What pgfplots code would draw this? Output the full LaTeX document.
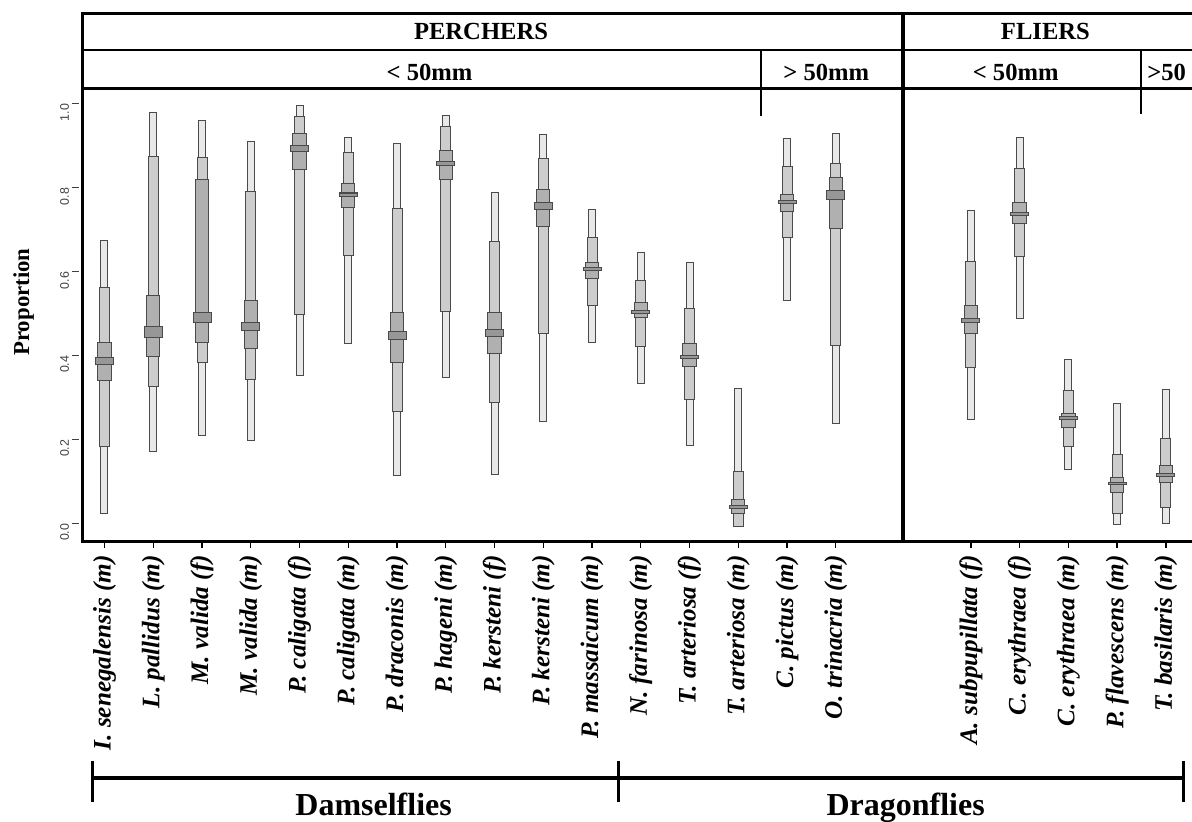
\documentclass[border=0pt]{standalone}
\usepackage{fontspec}
\setmainfont{Liberation Serif}
\setsansfont{Liberation Sans}
\usepackage{pgfplots}
\usepackage{pgfplotstable}
\pgfplotsset{compat=1.18}
\definecolor{cA}{HTML}{E8E8E8}
\definecolor{cB}{HTML}{CDCDCD}
\definecolor{cC}{HTML}{B0B0B0}
\definecolor{cM}{HTML}{979797}
\definecolor{outl}{HTML}{4A4A4A}
\definecolor{tickc}{HTML}{404040}

% x: category position; lo1/hi1 outer (lightest) range; lo2/hi2 middle range; lo3/hi3 inner range; mlo/mhi median band
\pgfplotstableread{
x     lo1    hi1   lo2    hi2   lo3   hi3   mlo   mhi
0     0.023  0.674 0.181  0.562 0.339 0.433 0.376 0.395
1     0.171  0.979 0.324  0.875 0.395 0.543 0.441 0.469
2     0.208  0.960 0.383  0.873 0.429 0.821 0.476 0.504
3     0.197  0.910 0.341  0.791 0.415 0.532 0.458 0.479
4     0.350  0.996 0.496  0.970 0.842 0.929 0.885 0.901
5     0.427  0.921 0.636  0.885 0.751 0.811 0.777 0.788
6     0.112  0.906 0.264  0.751 0.383 0.504 0.436 0.458
7     0.345  0.972 0.504  0.947 0.817 0.889 0.851 0.863
8     0.116  0.789 0.286  0.673 0.403 0.504 0.443 0.462
9     0.241  0.928 0.452  0.869 0.706 0.796 0.747 0.765
10    0.429  0.749 0.517  0.682 0.581 0.622 0.602 0.610
11    0.331  0.646 0.419  0.579 0.488 0.528 0.498 0.507
12    0.185  0.622 0.293  0.512 0.373 0.429 0.391 0.401
13   -0.009  0.323 -0.009 0.125 0.023 0.059 0.034 0.043
14    0.530  0.918 0.679  0.851 0.741 0.785 0.761 0.770
15    0.237  0.930 0.422  0.858 0.700 0.826 0.770 0.794
17.77 0.246  0.747 0.369  0.624 0.452 0.519 0.477 0.490
18.77 0.486  0.921 0.634  0.846 0.713 0.765 0.732 0.741
19.77 0.126  0.392 0.181  0.318 0.226 0.262 0.246 0.255
20.77 -0.003 0.286 0.021  0.165 0.073 0.111 0.091 0.099
21.77 -0.001 0.321 0.037  0.204 0.097 0.140 0.111 0.121
}\boxdata

\pgfplotsset{
  rng/.style n args={2}{draw=none, mark=none, forget plot,
    error bars/.cd, y dir=plus, y explicit, error mark=none,
    error bar style={line width=#1, draw=#2, line cap=butt}},
}

\begin{document}
\begin{tikzpicture}
\begin{axis}[name=ax, scale only axis, width=571.4pt, height=226.5pt,
  xmin=-0.441, xmax=23, ymin=-0.0422, ymax=1.0369,
  axis line style={line width=1.5pt, black},
  clip=false,
  xtick pos=left, ytick pos=left,
  xtick={0,1,2,3,4,5,6,7,8,9,10,11,12,13,14,15,17.77,18.77,19.77,20.77,21.77},
  xticklabels={I. senegalensis (m),L. pallidus (m),M. valida (f),M. valida (m),P. caligata (f),P. caligata (m),P. draconis (m),P. hageni (m),P. kersteni (f),P. kersteni (m),P. massaicum (m),N. farinosa (m),T. arteriosa (f),T. arteriosa (m),C. pictus (m),O. trinacria (m),A. subpupillata (f),C. erythraea (f),C. erythraea (m),P. flavescens (m),T. basilaris (m)},
  ytick={0,0.2,0.4,0.6,0.8,1.0},
  yticklabels={0.0,0.2,0.4,0.6,0.8,1.0},
  tick align=outside,
  major tick length=3.5pt,
  xtick style={draw=black, line width=0.7pt},
  ytick style={draw=tickc, line width=0.7pt, xshift=-2pt},
  xticklabel style={rotate=90, anchor=east, font=\bfseries\itshape\fontsize{12.6}{14}\selectfont},
  yticklabel style={rotate=90, anchor=south, xshift=-4.5pt, font=\sffamily\fontsize{6.2}{7}\selectfont, text=tickc},
  ylabel={Proportion},
  ylabel style={at={(axis cs:-1.66,0.527)}, anchor=center, font=\bfseries\fontsize{11.4}{13}\selectfont},
]
% outer range
\addplot[rng={4pt}{outl}] table[x=x, y=lo1, y error plus expr=\thisrow{hi1}-\thisrow{lo1}] {\boxdata};
\addplot[rng={3pt}{cA}] table[x=x, y expr=\thisrow{lo1}+0.0024, y error plus expr=\thisrow{hi1}-\thisrow{lo1}-0.0048] {\boxdata};
% middle range
\addplot[rng={5.5pt}{outl}] table[x=x, y=lo2, y error plus expr=\thisrow{hi2}-\thisrow{lo2}] {\boxdata};
\addplot[rng={4.5pt}{cB}] table[x=x, y expr=\thisrow{lo2}+0.0024, y error plus expr=\thisrow{hi2}-\thisrow{lo2}-0.0048] {\boxdata};
% inner range
\addplot[rng={7.2pt}{outl}] table[x=x, y=lo3, y error plus expr=\thisrow{hi3}-\thisrow{lo3}] {\boxdata};
\addplot[rng={6.2pt}{cC}] table[x=x, y expr=\thisrow{lo3}+0.0024, y error plus expr=\thisrow{hi3}-\thisrow{lo3}-0.0048] {\boxdata};
% median band
\addplot[rng={9.5pt}{outl}] table[x=x, y=mlo, y error plus expr=\thisrow{mhi}-\thisrow{mlo}] {\boxdata};
\addplot[rng={8.5pt}{cM}] table[x=x, y expr=\thisrow{mlo}+0.0024, y error plus expr=\thisrow{mhi}-\thisrow{mlo}-0.0048] {\boxdata};

% frame and header
\draw[line width=1.5pt, line join=miter] (axis cs:23.5,1.2132) -- (axis cs:-0.441,1.2132) -- (axis cs:-0.441,-0.0422) -- (axis cs:23.5,-0.0422);
\draw[line width=1.3pt] (axis cs:-0.441,1.1275) -- (axis cs:23.5,1.1275);
\draw[line width=1.3pt] (axis cs:-0.441,1.0369) -- (axis cs:23.5,1.0369);
\draw[line width=1.7pt] (axis cs:16.379,1.2132) -- (axis cs:16.379,-0.0422);
\draw[line width=1.3pt] (axis cs:13.467,1.1275) -- (axis cs:13.467,0.970);
\draw[line width=1.3pt] (axis cs:21.26,1.1275) -- (axis cs:21.26,0.975);
\node[font=\bfseries\fontsize{12.3}{14}\selectfont] at (axis cs:7.723,1.1727) {PERCHERS};
\node[font=\bfseries\fontsize{12.3}{14}\selectfont] at (axis cs:19.30,1.1727) {FLIERS};
\node[font=\bfseries\fontsize{12.3}{14}\selectfont] at (axis cs:6.667,1.075) {< 50mm};
\node[font=\bfseries\fontsize{12.3}{14}\selectfont] at (axis cs:14.806,1.075) {> 50mm};
\node[font=\bfseries\fontsize{12.3}{14}\selectfont] at (axis cs:18.69,1.075) {< 50mm};
\node[font=\bfseries\fontsize{12.3}{14}\selectfont, anchor=west, inner sep=0pt] at (axis cs:21.383,1.075) {>50};

% bottom bracket
\draw[line width=2pt] (axis cs:-0.2359,-0.6067) -- (axis cs:22.123,-0.6067);
\draw[line width=1.5pt] (axis cs:-0.2359,-0.566) -- (axis cs:-0.2359,-0.6637);
\draw[line width=1.5pt] (axis cs:10.533,-0.566) -- (axis cs:10.533,-0.6637);
\draw[line width=1.5pt] (axis cs:22.123,-0.566) -- (axis cs:22.123,-0.6637);
\node[anchor=base, font=\bfseries\fontsize{16}{19}\selectfont] at (axis cs:5.520,-0.6949) {Damselflies};
\node[anchor=base, font=\bfseries\fontsize{16}{19}\selectfont] at (axis cs:16.433,-0.6949) {Dragonflies};
\end{axis}
\pgfresetboundingbox
\path ([shift={(-41.5pt,-140pt)}]ax.south west) rectangle ++(596pt,410.5pt);
\end{tikzpicture}
\end{document}
